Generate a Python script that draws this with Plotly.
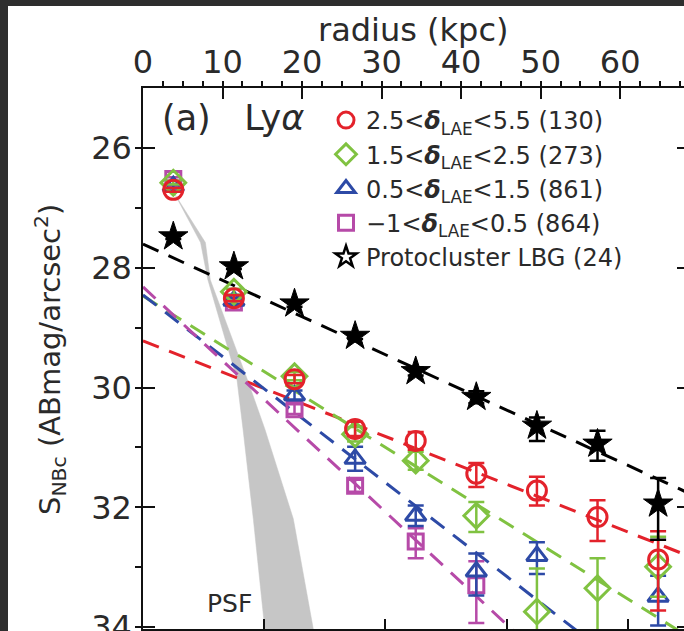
import plotly.graph_objects as go

# ---------------- data ----------------
radius_arcsec = [0.5, 1.5, 2.5, 3.5, 4.5, 5.5, 6.5, 7.5, 8.5]

red_mag = [26.70, 28.51, 29.86, 30.69, 30.89, 31.44, 31.72, 32.16, 32.87]
red_err_up = [0.03, 0.05, 0.07, 0.12, 0.15, 0.18, 0.23, 0.28, 0.47]
red_err_dn = [0.03, 0.05, 0.07, 0.12, 0.15, 0.22, 0.25, 0.40, 0.85]

green_mag = [26.58, 28.40, 29.81, 30.78, 31.22, 32.14, 33.74, 33.35, 32.99]
green_err_up = [0.03, 0.05, 0.07, 0.12, 0.15, 0.23, 0.72, 0.50, 0.50]
green_err_dn = [0.03, 0.05, 0.07, 0.12, 0.15, 0.27, 1.20, 1.00, 0.50]

blue_mag = [26.64, 28.55, 30.13, 31.19, 32.14, 33.07, 32.81, None, 33.49]
blue_err_up = [0.03, 0.05, 0.08, 0.20, 0.17, 0.30, 0.23, 0.0, 0.35]
blue_err_dn = [0.03, 0.05, 0.08, 0.20, 0.17, 0.40, 0.30, 0.0, 0.48]

purple_mag = [26.52, 28.58, 30.36, 31.64, 32.57, 33.30, None, None, None]
purple_err_up = [0.03, 0.05, 0.08, 0.10, 0.22, 0.40, 0.0, 0.0, 0.0]
purple_err_dn = [0.03, 0.05, 0.08, 0.10, 0.28, 0.63, 0.0, 0.0, 0.0]

lbg_mag = [27.48, 27.98, 28.60, 29.14, 29.73, 30.16, 30.64, 30.94, 31.94]
lbg_err_up = [0.04, 0.04, 0.05, 0.05, 0.07, 0.10, 0.14, 0.22, 0.43]
lbg_err_dn = [0.04, 0.04, 0.05, 0.05, 0.07, 0.10, 0.25, 0.28, 0.60]

# linear fits (mag at r = 0 and r = 9 arcsec)
fit_r = [0.0, 9.0]
fit_red = [29.22, 32.81]
fit_green = [28.47, 34.16]
fit_blue = [28.455, 35.50]
fit_purple = [28.32, 36.77]
fit_lbg = [27.605, 31.76]

# PSF band outline (arcsec, mag)
psf_left_r = [0.53, 0.95, 1.07, 1.55, 1.65, 1.82, 2.01, 2.10]
psf_left_mag = [26.78, 27.58, 28.20, 29.86, 30.69, 32.19, 34.03, 34.60]
psf_right_r = [0.53, 1.03, 1.11, 1.72, 2.01, 2.48, 2.81, 2.90]
psf_right_mag = [26.78, 27.58, 28.20, 29.86, 30.69, 32.19, 34.03, 34.60]

labels = ["2.5&lt;<b><i>δ</i></b><sub>LAE</sub>&lt;5.5 (130)",
          "1.5&lt;<b><i>δ</i></b><sub>LAE</sub>&lt;2.5 (273)",
          "0.5&lt;<b><i>δ</i></b><sub>LAE</sub>&lt;1.5 (861)",
          "−1&lt;<b><i>δ</i></b><sub>LAE</sub>&lt;0.5 (864)",
          "Protocluster LBG (24)"]

kpc_per_arcsec = 7.62
x_max_arcsec = 8.927

# ---------------- styles ----------------
RED = "#e3222b"
GREEN = "#80c241"
BLUE = "#2d4aa6"
PURPLE = "#b64aa8"
BLACK = "#000000"
FONT = "DejaVu Sans"
TXT = "#2a2a2a"

fig = go.Figure()

# PSF band
fig.add_trace(go.Scatter(
    x=psf_left_r + psf_right_r[::-1], y=psf_left_mag + psf_right_mag[::-1],
    fill="toself", fillcolor="#c6c6c6", line=dict(color="#c6c6c6", width=0.5),
    mode="lines", showlegend=False, hoverinfo="skip"))

# fit lines
for fy, col in [(fit_red, RED), (fit_green, GREEN), (fit_blue, BLUE),
                (fit_purple, PURPLE), (fit_lbg, BLACK)]:
    fig.add_trace(go.Scatter(x=fit_r, y=fy, mode="lines",
                             line=dict(color=col, width=3, dash="17px,11px"),
                             showlegend=False, hoverinfo="skip"))

series = [
    (purple_mag, purple_err_up, purple_err_dn, PURPLE, "square-open", 15, labels[3], 4),
    (blue_mag, blue_err_up, blue_err_dn, BLUE, "triangle-up-open", 18, labels[2], 3),
    (green_mag, green_err_up, green_err_dn, GREEN, "diamond-open", 19, labels[1], 2),
    (red_mag, red_err_up, red_err_dn, RED, "circle-open", 19, labels[0], 1),
]
for ys, eu, ed, col, sym, sz, lab, rank in series:
    fig.add_trace(go.Scatter(
        x=radius_arcsec, y=ys, mode="markers", name=lab, legendrank=rank,
        marker=dict(symbol=sym, size=sz, color=col, line=dict(color=col, width=3)),
        error_y=dict(type="data", symmetric=False, array=ed, arrayminus=eu,
                     color=col, thickness=2.5, width=8)))

# protocluster LBG (filled stars in the plot)
fig.add_trace(go.Scatter(
    x=radius_arcsec, y=lbg_mag, mode="markers", showlegend=False,
    marker=dict(symbol="star", size=22, color=BLACK, line=dict(color=BLACK, width=1)),
    error_y=dict(type="data", symmetric=False, array=lbg_err_dn, arrayminus=lbg_err_up,
                 color=BLACK, thickness=2.5, width=8)))
# legend entry (open star) - also anchors the top kpc axis
fig.add_trace(go.Scatter(
    x=[None], y=[None], mode="markers", name=labels[4], xaxis="x2", yaxis="y",
    legendrank=5,
    marker=dict(symbol="star-open", size=18, color=BLACK, line=dict(color=BLACK, width=2.5))))
# anchor for right-hand tick axis
fig.add_trace(go.Scatter(x=[None], y=[None], mode="markers", xaxis="x", yaxis="y2",
                         showlegend=False, hoverinfo="skip"))

L, T, B = 143, 88, 2
W, H = 684, 631
pw, ph = W - L, H - T - B


def px(x):
    return (x - L) / pw


def py(y):
    return (H - B - y) / ph


axis_common = dict(showgrid=False, zeroline=False, showline=True, linecolor="#111",
                   linewidth=1.5, ticks="inside", tickcolor="#111", tickwidth=1.5,
                   automargin=False)

fig.update_layout(
    width=W, height=H, autosize=False,
    margin=dict(l=L, r=0, t=T, b=B, autoexpand=False),
    paper_bgcolor="white", plot_bgcolor="white",
    font=dict(family=FONT, color=TXT),
    xaxis=dict(range=[0, x_max_arcsec], side="bottom", dtick=2, ticklen=10,
               showticklabels=False, minor=dict(dtick=0.5, ticklen=5, tickcolor="#111"),
               **axis_common),
    xaxis2=dict(range=[0, x_max_arcsec * kpc_per_arcsec], overlaying="x", side="top",
                anchor="y", dtick=10, ticklen=11,
                minor=dict(dtick=2.5, ticklen=5, tickcolor="#111"),
                tickfont=dict(family=FONT, size=32, color=TXT), ticklabelstandoff=0,
                **axis_common),
    yaxis=dict(range=[34.03, 25], dtick=2, ticklen=12,
               minor=dict(dtick=1, ticklen=6, tickcolor="#111"),
               tickfont=dict(family=FONT, size=32, color=TXT), ticklabelstandoff=3,
               ticklabeloverflow="allow",
               **axis_common),
    yaxis2=dict(range=[34.03, 25], overlaying="y", side="right", anchor="x",
                showgrid=False, zeroline=False, showline=False, ticks="inside",
                tickcolor="#111", tickwidth=1.5, dtick=2, ticklen=7, automargin=False,
                minor=dict(dtick=1, ticklen=1.5, tickcolor="#111"),
                showticklabels=False),
    legend=dict(x=px(326), y=py(98), xanchor="left", yanchor="top",
                bgcolor="rgba(0,0,0,0)", font=dict(family=FONT, size=24, color=TXT),
                traceorder="normal", itemclick=False),
    showlegend=True,
)

fig.add_annotation(x=px(413), y=py(30), xref="paper", yref="paper",
                   xanchor="center", yanchor="middle",
                   text="radius (kpc)", showarrow=False,
                   font=dict(family=FONT, size=32, color=TXT))
fig.add_annotation(x=px(50), y=py(360), xref="paper", yref="paper", textangle=-90,
                   xanchor="center", yanchor="middle",
                   text="S<sub>NBc</sub> (ABmag/arcsec<sup>2</sup>)", showarrow=False,
                   font=dict(family=FONT, size=29, color=TXT))
fig.add_annotation(x=px(160), y=py(118), xref="paper", yref="paper", xanchor="left",
                   yanchor="middle",
                   text="(a)   Ly<i>α</i>", showarrow=False,
                   font=dict(family=FONT, size=35, color=TXT))
fig.add_annotation(x=px(229), y=py(603), xref="paper", yref="paper",
                   xanchor="center", yanchor="middle",
                   text="PSF", showarrow=False,
                   font=dict(family=FONT, size=25, color=TXT))

# dark screenshot border at top and left
fig.add_shape(type="rect", xref="paper", yref="paper", x0=px(0), x1=px(8),
              y0=py(H), y1=py(0), fillcolor="#2e2e2e", line=dict(width=0), layer="above")
fig.add_shape(type="rect", xref="paper", yref="paper", x0=px(0), x1=px(W),
              y0=py(6), y1=py(0), fillcolor="#2e2e2e", line=dict(width=0), layer="above")

fig.write_html(
    "out.html",
    config={"responsive": False},
    post_script=("document.documentElement.style.overflow='hidden';"
                 "document.body.style.overflow='hidden';"),
)
